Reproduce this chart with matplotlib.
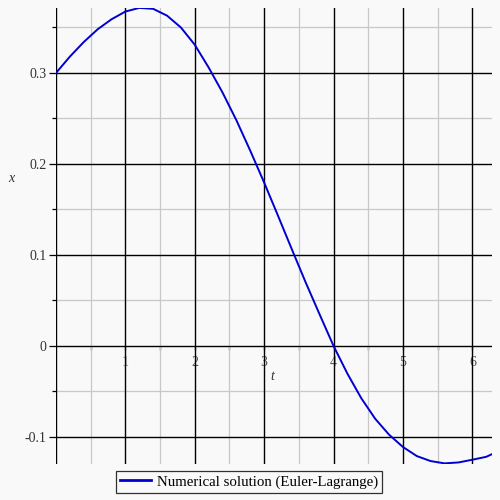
import numpy as np
import matplotlib
matplotlib.use("Agg")
import matplotlib.pyplot as plt
from matplotlib.ticker import FixedLocator

plt.rcParams['axes.unicode_minus'] = False
plt.rcParams['font.family'] = ['Liberation Serif', 'DejaVu Serif']

# Data
t_vals = [0.0, 0.2, 0.4, 0.6, 0.8, 1.0, 1.2, 1.4, 1.6, 1.8, 2.0, 2.2, 2.4, 2.6,
          2.8, 3.0, 3.2, 3.4, 3.6, 3.8, 4.0, 4.2, 4.4, 4.6, 4.8, 5.0, 5.2, 5.4,
          5.6, 5.8, 6.0, 6.2, 6.28]
x_vals = [0.300, 0.318, 0.334, 0.348, 0.359, 0.3675, 0.3715, 0.3705, 0.363, 0.350,
          0.331, 0.306, 0.2785, 0.248, 0.2145, 0.1795, 0.143, 0.106, 0.0695, 0.0345,
          0.000, -0.0305, -0.0575, -0.080, -0.0975, -0.111, -0.121, -0.1265,
          -0.129, -0.128, -0.125, -0.1218, -0.119]

x_major = [1, 2, 3, 4, 5, 6]
x_labels = ['1', '2', '3', '4', '5', '6']
x_minor = [0.5, 1.5, 2.5, 3.5, 4.5, 5.5]
y_major = [-0.1, 0.0, 0.1, 0.2, 0.3]
y_labels = ['-0.1', '0', '0.1', '0.2', '0.3']
y_minor = [-0.05, 0.05, 0.15, 0.25, 0.35]
legend_label = 'Numerical solution (Euler-Lagrange)'

bg = '#f9f9f9'
fig = plt.figure(figsize=(5, 5), dpi=100, facecolor=bg)
ax = fig.add_axes([0.112, 0.072, 0.872, 0.912], facecolor=bg)

ax.set_xlim(0, 2 * np.pi)
ax.set_ylim(-0.1297, 0.3714)

# minor grid
for xm in x_minor:
    ax.axvline(xm, color='#c8c8c8', lw=0.9, zorder=1.8)
for ym in y_minor:
    ax.axhline(ym, color='#c8c8c8', lw=0.9, zorder=1.8)
# major grid
for xm in [0] + x_major:
    ax.axvline(xm, color='black', lw=1.0, zorder=2)
for ym in y_major:
    ax.axhline(ym, color='black', lw=1.0, zorder=2)

line, = ax.plot(t_vals, x_vals, color='#0000d0', lw=1.4, zorder=3,
                label=legend_label, solid_joinstyle='round')

for s in ax.spines.values():
    s.set_visible(False)
ax.spines['bottom'].set_position(('data', 0))

ax.xaxis.set_major_locator(FixedLocator(x_major))
ax.set_xticklabels(x_labels)
ax.xaxis.set_minor_locator(FixedLocator(x_minor))
ax.yaxis.set_major_locator(FixedLocator(y_major))
ax.set_yticklabels(y_labels)
ax.yaxis.set_minor_locator(FixedLocator(y_minor))

ax.tick_params(axis='x', which='both', direction='out', length=3, width=0.9,
               color='black', labelsize=10, labelcolor='#555555', pad=4)
ax.tick_params(axis='y', which='major', direction='out', length=5, width=0.9,
               color='black', labelsize=10, labelcolor='#333333', pad=2)
ax.tick_params(axis='y', which='minor', direction='out', length=3, width=0.9, color='black')

ax.text(3.12, -0.034, 't', fontsize=10, style='italic', color='#333333',
        ha='center', va='center')
fig.text(0.022, 0.644, 'x', fontsize=10, style='italic', color='#333333',
         ha='center', va='center')

leg = fig.legend(handles=[line], loc='center', bbox_to_anchor=(0.498, 0.036),
                 frameon=True, fancybox=False, fontsize=10.7, handlelength=2.1,
                 borderpad=0.25, handletextpad=0.4, borderaxespad=0)
leg.get_frame().set_edgecolor('black')
leg.get_frame().set_linewidth(0.9)
leg.get_frame().set_facecolor(bg)
leg.get_lines()[0].set_linewidth(2.0)

fig.savefig('out.png', dpi=100, facecolor=bg)
